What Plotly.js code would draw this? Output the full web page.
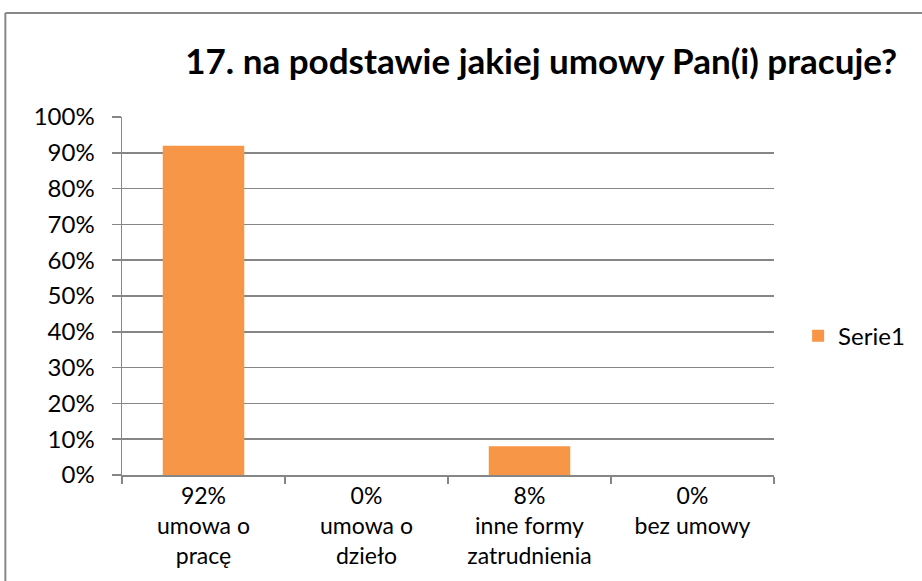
<!DOCTYPE html>
<html>
<head>
<meta charset="utf-8">
<script src="https://cdn.plot.ly/plotly-3.0.1.min.js"></script>
<style>html,body{margin:0;padding:0;background:#fff;}#chart{width:922px;height:581px;}</style>
</head>
<body>
<div id="chart"></div>
<script>
const categories = ["umowa o<br>pracę", "umowa o<br>dzieło", "inne formy<br>zatrudnienia", "bez umowy"];
const values = [0.92, 0, 0.08, 0];
const valueLabels = ["92%", "0%", "8%", "0%"];
const seriesName = "Serie1";
const titleText = "17. na podstawie jakiej umowy Pan(i) pracuje?";

const FONT = "Lato, 'Liberation Sans', sans-serif";
const AXIS = "#868686";

const tickText = categories.map((c, i) => valueLabels[i] + "<br>" + c);

const trace = {
  type: "bar",
  x: categories,
  y: values,
  name: seriesName,
  width: 0.5,
  marker: { color: "#F79646", line: { width: 0 } },
  showlegend: true,
  hoverinfo: "none"
};

const layout = {
  width: 922,
  height: 581,
  margin: { l: 122, r: 146, t: 117, b: 106 },
  paper_bgcolor: "#ffffff",
  plot_bgcolor: "#ffffff",
  font: { family: FONT, size: 24, color: "#000000" },
  title: {
    text: "<b>" + titleText + "</b>",
    font: { family: FONT, size: 35, color: "#000000" },
    xref: "container", x: 0.587, xanchor: "center",
    yref: "container", y: 0.893, yanchor: "middle"
  },
  xaxis: {
    type: "category",
    tickmode: "array",
    tickvals: categories,
    ticktext: tickText,
    tickson: "boundaries",
    ticks: "outside",
    ticklen: 7,
    tickwidth: 1.5,
    tickcolor: AXIS,
    showline: true,
    linecolor: AXIS,
    linewidth: 1.5,
    showgrid: false,
    zeroline: false,
    fixedrange: true,
    ticklabelstandoff: 0,
    tickfont: { family: FONT, size: 23, color: "#000000" }
  },
  yaxis: {
    range: [0, 1],
    dtick: 0.1,
    tick0: 0,
    tickformat: ".0%",
    ticks: "outside",
    ticklen: 9,
    tickwidth: 1.5,
    tickcolor: AXIS,
    showline: true,
    linecolor: AXIS,
    linewidth: 1.5,
    showgrid: true,
    gridcolor: AXIS,
    gridwidth: 1.5,
    zeroline: false,
    fixedrange: true,
    ticklabelstandoff: 12,
    tickfont: { family: FONT, size: 24, color: "#000000" }
  },
  legend: {
    x: 1.037, xanchor: "left",
    y: 0.388, yanchor: "middle",
    font: { family: FONT, size: 24, color: "#000000" },
    bgcolor: "rgba(0,0,0,0)"
  },
  shapes: [
    { type: "line", xref: "paper", yref: "paper", x0: -0.1789, x1: 1.25, y0: 1.2905, y1: 1.2905,
      line: { color: "#888888", width: 2 } },
    { type: "line", xref: "paper", yref: "paper", x0: -0.1789, x1: -0.1789, y0: 1.2905, y1: -0.35,
      line: { color: "#888888", width: 2 } }
  ],
  bargap: 0.5
};

Plotly.newPlot("chart", [trace], layout, { displayModeBar: false, staticPlot: true });
</script>
</body>
</html>
